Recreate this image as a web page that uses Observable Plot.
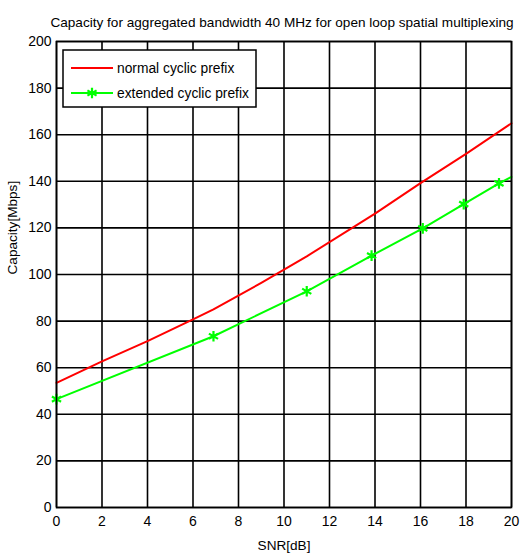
<!DOCTYPE html>
<html>
<head>
<meta charset="utf-8">
<script src="https://cdn.jsdelivr.net/npm/d3@7"></script>
<script src="https://cdn.jsdelivr.net/npm/@observablehq/plot@0.6"></script>
<style>
  html, body { margin: 0; padding: 0; background: #fff; }
  svg text { font-family: "Liberation Sans", Arial, sans-serif; }
</style>
</head>
<body>
<div id="chart"></div>
<script>
const titleText = "Capacity for aggregated bandwidth 40 MHz for open loop spatial multiplexing";
const xLabel = "SNR[dB]";
const yLabel = "Capacity[Mbps]";
const seriesNames = ["normal cyclic prefix", "extended cyclic prefix"];
const xTicks = [0, 2, 4, 6, 8, 10, 12, 14, 16, 18, 20];
const yTicks = [0, 20, 40, 60, 80, 100, 120, 140, 160, 180, 200];

const snrNormal = [0, 2, 4, 6, 6.9, 9, 11, 14, 16, 18, 20];
const capNormal = [53.5, 62.7, 71.4, 80.7, 85, 96.4, 107.8, 126.1, 139.2, 151.8, 164.9];

const snrExtended = [0, 6.9, 11.0, 13.85, 16.1, 17.9, 19.45, 20];
const capExtended = [46.5, 73.5, 92.8, 108.1, 119.8, 130.2, 139.1, 141.9];
const extendedMarked = [true, true, true, true, true, true, true, false];

const normal = snrNormal.map((x, i) => ({x, y: capNormal[i]}));
const extended = snrExtended.map((x, i) => ({x, y: capExtended[i], m: extendedMarked[i]}));

const W = 520, H = 554;
const mL = 56, mR = 9, mT = 41, mB = 47;
const tickFont = 14;
const titleFont = 13.6;
const labelFont = 13.6;
const legendFont = 13.8;

const chart = Plot.plot({
  width: W, height: H,
  marginLeft: mL, marginRight: mR, marginTop: mT, marginBottom: mB,
  style: {fontSize: tickFont + "px", background: "#fff", color: "#000"},
  x: {domain: [0, 20], ticks: xTicks, label: null},
  y: {domain: [0, 200], ticks: yTicks, label: null},
  marks: [
    Plot.gridX(xTicks, {stroke: "#000", strokeOpacity: 1, strokeWidth: 1.6}),
    Plot.gridY(yTicks, {stroke: "#000", strokeOpacity: 1, strokeWidth: 1.6}),
    Plot.axisX({ticks: xTicks, tickSize: 0, tickPadding: 9, fontSize: tickFont, label: null}),
    Plot.axisY({ticks: yTicks, tickSize: 0, tickPadding: 5, fontSize: tickFont, label: null}),
    Plot.line(normal, {x: "x", y: "y", stroke: "#ff0000", strokeWidth: 2}),
    Plot.line(extended, {x: "x", y: "y", stroke: "#00ff00", strokeWidth: 2}),
    Plot.dot(extended.filter(d => d.m), {x: "x", y: "y", symbol: "asterisk", r: 5, stroke: "#00ff00", strokeWidth: 2.2}),
    Plot.frame({stroke: "#000", strokeWidth: 1.6}),
    Plot.text([titleText], {frameAnchor: "top", lineAnchor: "middle", dy: -19, dx: -2, fontSize: titleFont, fill: "#000"}),
    Plot.text([xLabel], {frameAnchor: "bottom", lineAnchor: "middle", dy: 38, fontSize: labelFont, fill: "#000"}),
    Plot.text([yLabel], {frameAnchor: "left", dx: -44, rotate: -90, fontSize: labelFont, fill: "#000"})
  ]
});

// legend
const svg = d3.select(chart);
const lg = svg.append("g").attr("transform", `translate(${mL + 7},${mT + 9})`);
lg.append("rect").attr("x", 0).attr("y", 0).attr("width", 193).attr("height", 57)
  .attr("fill", "#fff").attr("stroke", "#000").attr("stroke-width", 1.5);
const rowY = [18, 43];
const colors = ["#ff0000", "#00ff00"];
seriesNames.forEach((name, i) => {
  lg.append("line").attr("x1", 8).attr("x2", 50).attr("y1", rowY[i]).attr("y2", rowY[i])
    .attr("stroke", colors[i]).attr("stroke-width", 2);
  lg.append("text").attr("x", 54).attr("y", rowY[i]).attr("dy", "0.35em")
    .attr("text-anchor", "start")
    .attr("font-size", legendFont).attr("fill", "#000").text(name);
});
// marker in legend for extended series
const sym = d3.symbol(d3.symbolAsterisk, Math.PI * 25)();
lg.append("path").attr("d", sym).attr("transform", `translate(29,${rowY[1]})`)
  .attr("fill", "none").attr("stroke", "#00ff00").attr("stroke-width", 2.2);

document.getElementById("chart").appendChild(chart);
</script>
</body>
</html>
